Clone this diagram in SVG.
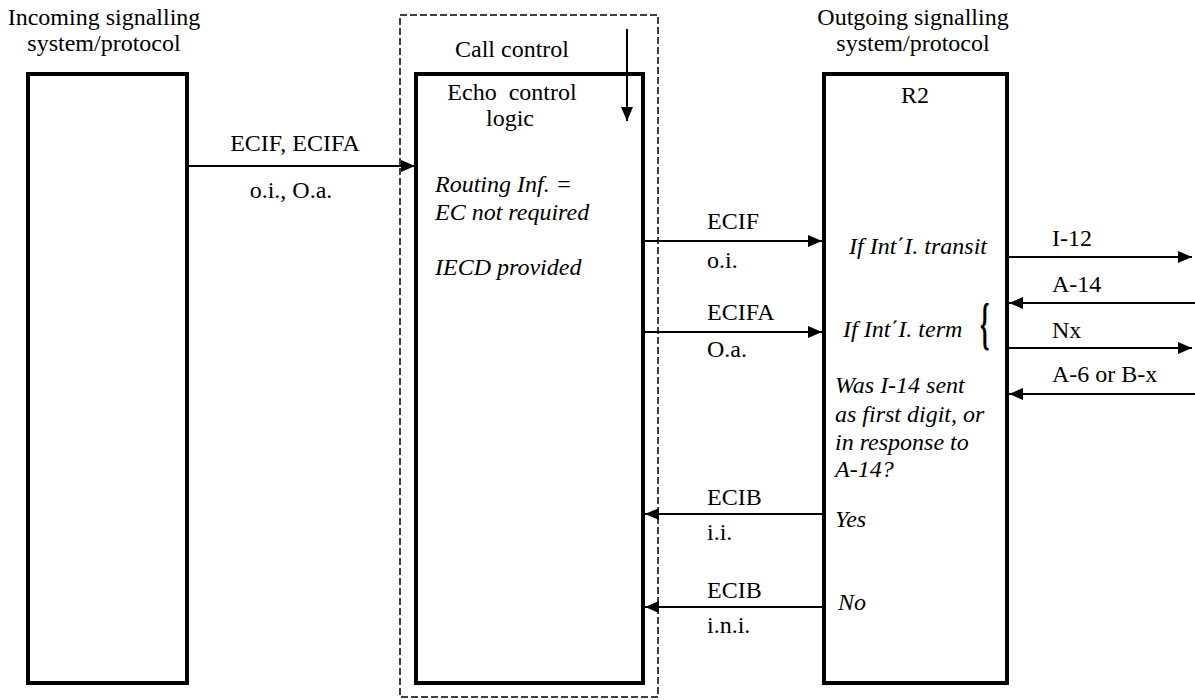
<svg xmlns="http://www.w3.org/2000/svg" width="1195" height="700" viewBox="0 0 1195 700">
<style>
.box{fill:#fff;stroke:#000;stroke-width:4}
.dash{fill:none;stroke:#000;stroke-width:1.5;stroke-dasharray:7 3}
.ln{stroke:#000;stroke-width:2;fill:none}
text{font-family:'Liberation Serif',serif;font-size:24px;fill:#000}
.i{font-style:italic}
.m{text-anchor:middle}
</style>
<defs>
<marker id="ah" viewBox="0 0 14 12" refX="14" refY="6" markerWidth="14" markerHeight="12" markerUnits="userSpaceOnUse" orient="auto">
<path d="M0,0 L14,6 L0,12 Z" fill="#000"/>
</marker>
</defs>
<rect width="1195" height="700" fill="#fff"/>
<g id="incoming" font-family="Liberation Serif, serif">
<text class="m" x="104" y="25">Incoming signalling</text>
<text class="m" x="104" y="51">system/protocol</text>
<rect class="box" x="28" y="74" width="159" height="609"/>
</g>
<g id="call-control" font-family="Liberation Serif, serif">
<rect class="dash" x="400" y="15" width="258" height="682"/>
<text class="m" x="512" y="57">Call control</text>
</g>
<g id="echo-control" font-family="Liberation Serif, serif">
<rect class="box" x="416" y="74" width="227" height="609"/>
<text class="m" x="512" y="100" xml:space="preserve">Echo  control</text>
<text class="m" x="510" y="126">logic</text>
<text class="i" x="435" y="192">Routing Inf. =</text>
<text class="i" x="435" y="220">EC not required</text>
<text class="i" x="435" y="275">IECD provided</text>
</g>
<g id="outgoing" font-family="Liberation Serif, serif">
<text class="m" x="913" y="25">Outgoing signalling</text>
<text class="m" x="913" y="51">system/protocol</text>
<rect class="box" x="824" y="74" width="183" height="609"/>
<text class="m" x="915" y="103">R2</text>
<text class="i" x="849" y="254">If Int΄I. transit</text>
<text class="i" x="843" y="337">If Int΄I. term</text>
<text x="0" y="0" font-size="30" font-weight="bold" transform="translate(980,343) scale(1,2.35)">{</text>
<text class="i" x="835" y="393">Was I-14 sent</text>
<text class="i" x="835" y="422">as first digit, or</text>
<text class="i" x="835" y="450">in response to</text>
<text class="i" x="835" y="477">A-14?</text>
<text class="i" x="835" y="527">Yes</text>
<text class="i" x="838" y="610">No</text>
</g>
<g id="connectors" font-family="Liberation Serif, serif">
<line class="ln" x1="627" y1="29" x2="627" y2="121" marker-end="url(#ah)"/>
<line class="ln" x1="187" y1="166" x2="415" y2="166" marker-end="url(#ah)"/>
<line class="ln" x1="643" y1="241" x2="822" y2="241" marker-end="url(#ah)"/>
<line class="ln" x1="643" y1="332" x2="822" y2="332" marker-end="url(#ah)"/>
<line class="ln" x1="824" y1="514" x2="645" y2="514" marker-end="url(#ah)"/>
<line class="ln" x1="824" y1="607" x2="645" y2="607" marker-end="url(#ah)"/>
<line class="ln" x1="1007" y1="257" x2="1192" y2="257" marker-end="url(#ah)"/>
<line class="ln" x1="1195" y1="303" x2="1009" y2="303" marker-end="url(#ah)"/>
<line class="ln" x1="1007" y1="348" x2="1192" y2="348" marker-end="url(#ah)"/>
<line class="ln" x1="1195" y1="394" x2="1009" y2="394" marker-end="url(#ah)"/>
<text class="m" x="295" y="151">ECIF, ECIFA</text>
<text class="m" x="291" y="198">o.i., O.a.</text>
<text x="707" y="229">ECIF</text>
<text x="707" y="268">o.i.</text>
<text x="707" y="320">ECIFA</text>
<text x="707" y="357">O.a.</text>
<text x="707" y="505">ECIB</text>
<text x="707" y="540">i.i.</text>
<text x="707" y="598">ECIB</text>
<text x="707" y="633">i.n.i.</text>
<text x="1052" y="246">I-12</text>
<text x="1052" y="292">A-14</text>
<text x="1052" y="338">Nx</text>
<text x="1052" y="382">A-6 or B-x</text>
</g>
</svg>
